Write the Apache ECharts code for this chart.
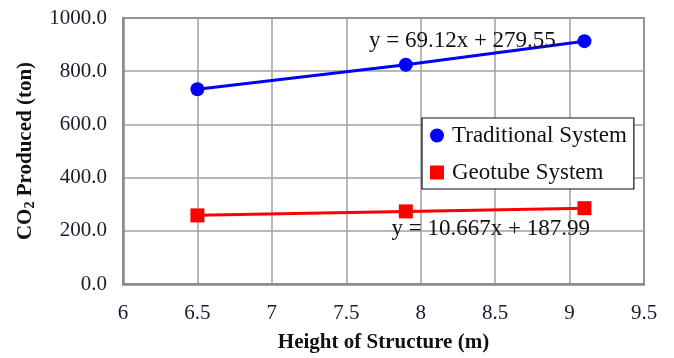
<!DOCTYPE html>
<html><head><meta charset="utf-8">
<script src="https://cdn.jsdelivr.net/npm/echarts@6/dist/echarts.min.js"></script>
<style>html,body{margin:0;padding:0;background:#fff}#c{width:674px;height:358px}</style>
</head><body><div id="c"></div>
<script>
const heights = [6.5, 7.9, 9.1];
const traditional = [732, 824, 913];
const geotube = [258, 273, 285];
const xTicks = [6, 6.5, 7, 7.5, 8, 8.5, 9, 9.5];
const yTicks = [0, 200, 400, 600, 800, 1000];
const seriesNames = ['Traditional System', 'Geotube System'];
const equations = ['y = 69.12x + 279.55', 'y = 10.667x + 187.99'];
const eqPos = [[8.28, 915], [8.47, 206]];

const F = 'Liberation Serif, Times New Roman, serif';
const chart = echarts.init(document.getElementById('c'));
const pair = (xs, ys) => xs.map((x, i) => [x, ys[i]]);
chart.setOption({
  animation: false,
  grid: {left: 123, right: 30, top: 18, bottom: 69, show: true, borderColor: '#444', borderWidth: 1.5, backgroundColor: '#fff'},
  xAxis: {
    type: 'value', min: 6, max: 9.5, interval: 0.5,
    axisLine: {show: true, lineStyle: {color: '#8a8a8a', width: 2.5}}, axisTick: {show: false},
    axisLabel: {color: '#1a1a2e', fontFamily: F, fontSize: 21, margin: 19, formatter: v => String(v)},
    splitLine: {lineStyle: {color: '#a0a0a0', width: 1.5}},
    name: 'Height of Structure (m)', nameLocation: 'middle', nameGap: 48,
    nameTextStyle: {color: '#111', fontFamily: F, fontSize: 21, fontWeight: 'bold'}
  },
  yAxis: {
    type: 'value', min: 0, max: 1000, interval: 200,
    axisLine: {show: true, lineStyle: {color: '#8a8a8a', width: 2.5}}, axisTick: {show: false},
    axisLabel: {color: '#1a1a2e', fontFamily: F, fontSize: 21, margin: 16, formatter: v => v.toFixed(1)},
    splitLine: {lineStyle: {color: '#a0a0a0', width: 1.5}},
    name: '{a|CO}{b|2}{a| Produced (ton)}', nameLocation: 'middle', nameGap: 86,
    nameTextStyle: {
      rich: {
        a: {color: '#111', fontFamily: F, fontSize: 21, fontWeight: 'bold'},
        b: {color: '#111', fontFamily: F, fontSize: 14, fontWeight: 'bold', padding: [9, 0, 0, 0]}
      }
    }
  },
  legend: {
    orient: 'vertical', left: 422, top: 118,
    backgroundColor: '#fff', borderColor: '#111', borderWidth: 1.2,
    padding: [6, 7, 5, 8], itemGap: 14, itemWidth: 14, itemHeight: 14,
    textStyle: {fontFamily: F, fontSize: 23, color: '#111', padding: [0, 0, 0, 3]},
    data: [{name: seriesNames[0], icon: 'circle'}, {name: seriesNames[1], icon: 'rect'}]
  },
  series: [
    {type: 'line', data: pair(heights, traditional), symbol: 'none', lineStyle: {color: '#0000ff', width: 3}, z: 3},
    {type: 'line', data: pair(heights, geotube), symbol: 'none', lineStyle: {color: '#ff0000', width: 3}, z: 3},
    {name: seriesNames[0], type: 'scatter', data: pair(heights, traditional), symbol: 'circle', symbolSize: 14,
      itemStyle: {color: '#0000ff', opacity: 1}, z: 4},
    {name: seriesNames[1], type: 'scatter', data: pair(heights, geotube), symbol: 'rect', symbolSize: 14,
      itemStyle: {color: '#ff0000', opacity: 1}, z: 4},
    {type: 'scatter', symbolSize: 0, silent: true, z: 5, itemStyle: {opacity: 1},
      data: eqPos.map((p, i) => ({value: p, label: {show: true, formatter: equations[i], position: 'inside',
        fontFamily: F, fontSize: 23, color: '#111'}}))}
  ]
});
</script></body></html>
